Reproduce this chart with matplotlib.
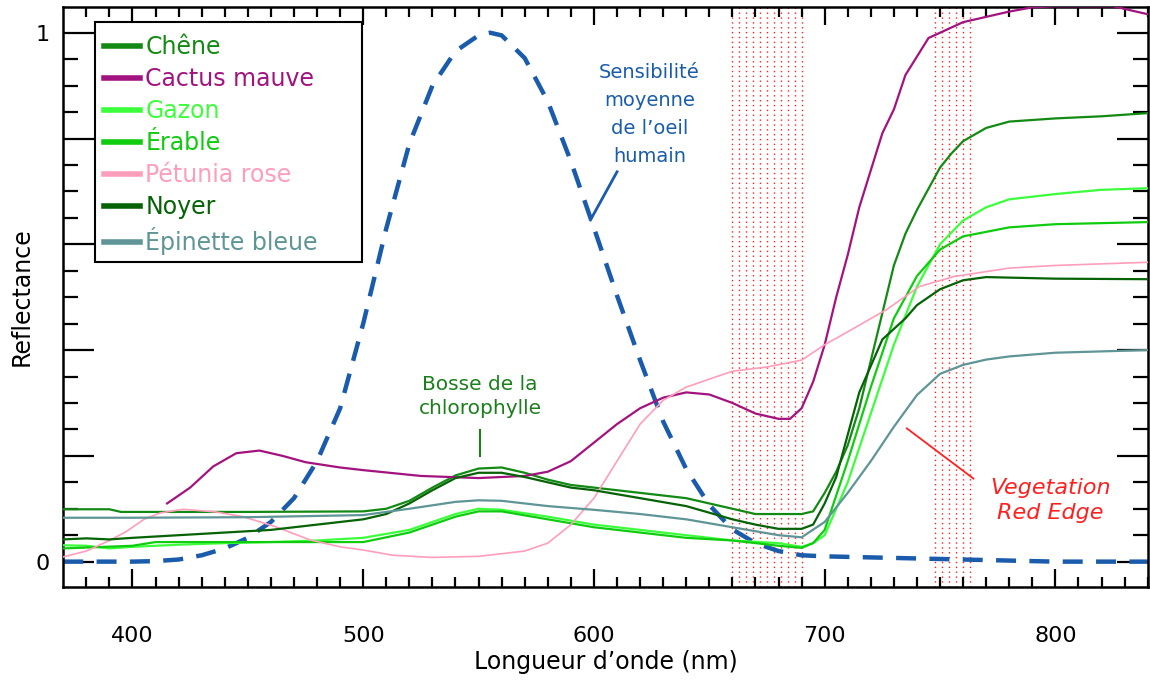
import numpy as np
import matplotlib
matplotlib.use("Agg")
import matplotlib.pyplot as plt
from matplotlib.patches import Rectangle

plt.rcParams['font.family'] = ['DejaVu Sans']

# ---- data ----
# mean sensitivity of the human eye
eye_wl = [370, 380, 390, 400, 410, 420, 430, 440, 450, 460, 470, 480, 490, 500, 510, 520,
          530, 540, 550, 555, 560, 570, 580, 590, 600, 610, 620, 630, 640, 650, 660, 670,
          680, 690, 700, 720, 740, 760, 780, 800, 840]
eye_val = [0.0, 0.0, 0.0, 0.0, 0.001, 0.004, 0.012, 0.025, 0.045, 0.075, 0.12, 0.19, 0.29,
           0.45, 0.63, 0.79, 0.9, 0.965, 0.995, 1.0, 0.995, 0.952, 0.87, 0.757, 0.631,
           0.503, 0.381, 0.265, 0.175, 0.107, 0.061, 0.035, 0.02, 0.012, 0.01, 0.008, 0.006,
           0.004, 0.002, 0.0, 0.0]

chene_wl = [370, 390, 395, 450, 500, 510, 520, 530, 540, 550, 560, 570, 580, 590, 600, 620,
            640, 660, 670, 690, 695, 700, 705, 710, 715, 720, 725, 730, 735, 740, 745, 750,
            755, 760, 770, 780, 800, 820, 840]
chene_val = [0.099, 0.099, 0.094, 0.094, 0.095, 0.10, 0.115, 0.14, 0.163, 0.176, 0.178, 0.168,
             0.155, 0.145, 0.14, 0.13, 0.12, 0.10, 0.09, 0.09, 0.095, 0.13, 0.17, 0.22, 0.29,
             0.38, 0.47, 0.56, 0.62, 0.665, 0.705, 0.745, 0.772, 0.795, 0.82, 0.832, 0.838,
             0.842, 0.848]

cactus_wl = [415, 425, 435, 445, 455, 465, 475, 490, 500, 525, 550, 570, 580, 590, 600, 610,
             620, 630, 640, 650, 660, 670, 680, 685, 690, 695, 700, 705, 710, 715, 720, 725,
             730, 735, 740, 745, 750, 760, 770, 780, 790, 800, 825, 840]
cactus_val = [0.11, 0.14, 0.18, 0.205, 0.21, 0.20, 0.188, 0.178, 0.173, 0.162, 0.158, 0.162,
              0.17, 0.19, 0.225, 0.26, 0.29, 0.31, 0.32, 0.316, 0.30, 0.28, 0.27, 0.27, 0.29,
              0.34, 0.41, 0.50, 0.58, 0.67, 0.74, 0.81, 0.855, 0.92, 0.955, 0.99, 1.0, 1.02,
              1.03, 1.04, 1.048, 1.05, 1.05, 1.035]

gazon_wl = [370, 380, 390, 400, 420, 440, 460, 480, 500, 520, 540, 550, 560, 580, 600, 620,
            640, 660, 680, 690, 695, 700, 710, 720, 730, 740, 750, 760, 770, 780, 800, 820, 840]
gazon_val = [0.031, 0.03, 0.025, 0.028, 0.032, 0.035, 0.037, 0.04, 0.045, 0.06, 0.09, 0.10,
             0.098, 0.085, 0.07, 0.06, 0.05, 0.04, 0.035, 0.028, 0.035, 0.05, 0.15, 0.28, 0.41,
             0.52, 0.60, 0.645, 0.67, 0.685, 0.695, 0.703, 0.706]

erable_wl = [370, 400, 410, 500, 520, 540, 550, 560, 580, 600, 620, 640, 660, 680, 690, 695,
             700, 710, 720, 730, 740, 750, 760, 780, 800, 840]
erable_val = [0.025, 0.03, 0.037, 0.037, 0.055, 0.085, 0.095, 0.095, 0.08, 0.065, 0.055, 0.045,
              0.04, 0.03, 0.026, 0.035, 0.06, 0.19, 0.33, 0.46, 0.54, 0.59, 0.615, 0.632, 0.638,
              0.642]

petunia_wl = [370, 380, 390, 397, 405, 412, 422, 436, 448, 462, 477, 490, 500, 513, 530, 550,
              570, 580, 590, 600, 610, 620, 630, 640, 650, 660, 675, 690, 700, 715, 727, 741,
              756, 768, 780, 800, 840]
petunia_val = [0.009, 0.02, 0.04, 0.056, 0.08, 0.092, 0.099, 0.094, 0.085, 0.066, 0.041, 0.028,
               0.022, 0.012, 0.008, 0.01, 0.02, 0.035, 0.07, 0.12, 0.19, 0.26, 0.305, 0.33,
               0.345, 0.36, 0.368, 0.381, 0.41, 0.447, 0.477, 0.52, 0.539, 0.547, 0.555, 0.56,
               0.566]

noyer_wl = [370, 380, 390, 400, 420, 440, 460, 480, 500, 510, 520, 530, 540, 550, 560, 570,
            580, 590, 600, 620, 640, 660, 670, 680, 690, 695, 700, 705, 710, 715, 720, 725,
            730, 735, 740, 750, 760, 770, 800, 840]
noyer_val = [0.042, 0.044, 0.042, 0.045, 0.05, 0.055, 0.06, 0.07, 0.08, 0.09, 0.11, 0.135,
             0.158, 0.168, 0.168, 0.16, 0.15, 0.14, 0.135, 0.12, 0.105, 0.08, 0.07, 0.062,
             0.062, 0.07, 0.11, 0.16, 0.24, 0.32, 0.37, 0.42, 0.44, 0.46, 0.485, 0.515, 0.532,
             0.538, 0.535, 0.534]

epinette_wl = [370, 400, 450, 500, 520, 540, 550, 560, 580, 600, 620, 640, 660, 680, 690, 700,
               710, 720, 730, 740, 750, 760, 770, 780, 800, 840]
epinette_val = [0.083, 0.083, 0.084, 0.088, 0.10, 0.113, 0.116, 0.115, 0.105, 0.098, 0.09,
                0.08, 0.065, 0.05, 0.046, 0.075, 0.13, 0.19, 0.255, 0.315, 0.355, 0.372, 0.382,
                0.388, 0.395, 0.40]

# red dotted bands (nm)
band1 = (660, 690)
band2 = (748, 763)

fig = plt.figure(figsize=(11.5, 6.81), dpi=100)
ax = fig.add_axes([0.055, 0.138, 0.943, 0.852])

# dotted red bands
for lo, hi in (band1, band2):
    for xv in np.linspace(lo, hi, int(round((hi - lo) / 3.0)) + 1):
        ax.axvline(xv, color='#ff2020', lw=1.0, ls=(0, (1, 2.5)), zorder=1)

ax.plot(eye_wl, eye_val, color='#1a5cab', lw=3.2, ls=(0, (4.5, 3)), zorder=2)

series = [
    ('Chêne', chene_wl, chene_val, '#138a13', 1.6),
    ('Cactus mauve', cactus_wl, cactus_val, '#a3137f', 1.6),
    ('Gazon', gazon_wl, gazon_val, '#3cff3c', 1.6),
    ('Érable', erable_wl, erable_val, '#0fcc0f', 1.6),
    ('Pétunia rose', petunia_wl, petunia_val, '#ff9ebb', 1.2),
    ('Noyer', noyer_wl, noyer_val, '#056205', 1.6),
    ('Épinette bleue', epinette_wl, epinette_val, '#5f9596', 1.6),
]
handles = []
for name, wl, val, col, lw in series:
    h, = ax.plot(wl, val, color=col, lw=lw, zorder=3)
    handles.append(h)

ax.set_xlim(370, 840)
ax.set_ylim(-0.048, 1.049)

ax.set_xticks([400, 500, 600, 700, 800])
ax.set_xticks(np.arange(380, 841, 10), minor=True)
ax.set_yticks(np.arange(0, 1.01, 0.2))
ax.set_yticklabels(['0', '', '', '', '', '1'])
ax.set_yticks(np.arange(-0.0, 1.05, 0.05), minor=True)
ax.tick_params(axis='both', which='both', direction='in', top=True, right=True,
               width=1.6, labelsize=16, colors='black')
ax.tick_params(axis='x', which='major', length=13, pad=28)
ax.tick_params(axis='x', which='minor', length=7)
ax.tick_params(axis='y', which='major', length=22, pad=10)
ax.tick_params(axis='y', which='minor', length=11)
for sp in ax.spines.values():
    sp.set_linewidth(1.8)

ax.set_xlabel('Longueur d’onde (nm)', fontsize=17, labelpad=3)
ax.set_ylabel('Reflectance', fontsize=17, labelpad=1)

# legend box drawn by hand (the original one is wider than its text)
ax.add_patch(Rectangle((0.0292, 0.560), 0.2462, 0.414, transform=ax.transAxes,
                       facecolor='white', edgecolor='black', lw=1.5, zorder=4))
leg = ax.legend(handles=handles, labels=[s[0] for s in series],
                loc='upper left', bbox_to_anchor=(0.029, 0.968), borderaxespad=0,
                fontsize=17, handlelength=1.5, handletextpad=0.25, labelspacing=0.34,
                frameon=False, borderpad=0.4)
leg.set_zorder(5)
for txt, s in zip(leg.get_texts(), series):
    txt.set_color(s[3])
for lh in leg.legend_handles:
    lh.set_linewidth(4)

# annotations
ax.text(624, 0.845, 'Sensibilité\nmoyenne\nde l’oeil\nhumain', color='#1a5cab', fontsize=14,
        ha='center', va='center', linespacing=1.6)
ax.plot([598.5, 610], [0.646, 0.737], color='#1a5cab', lw=2.0)

ax.text(550.7, 0.312, 'Bosse de la\nchlorophylle', color='#1b7f1b', fontsize=14.5,
        ha='center', va='center', linespacing=1.3)
ax.plot([550.7, 550.7], [0.2, 0.249], color='#1b7f1b', lw=1.5)

ax.text(797.8, 0.116, 'Vegetation\nRed Edge', color='#ff2020', fontsize=16, style='italic',
        ha='center', va='center', linespacing=1.3)
ax.plot([735.6, 764.5], [0.252, 0.157], color='#ff2020', lw=1.3)

fig.savefig('out.png', dpi=100)
